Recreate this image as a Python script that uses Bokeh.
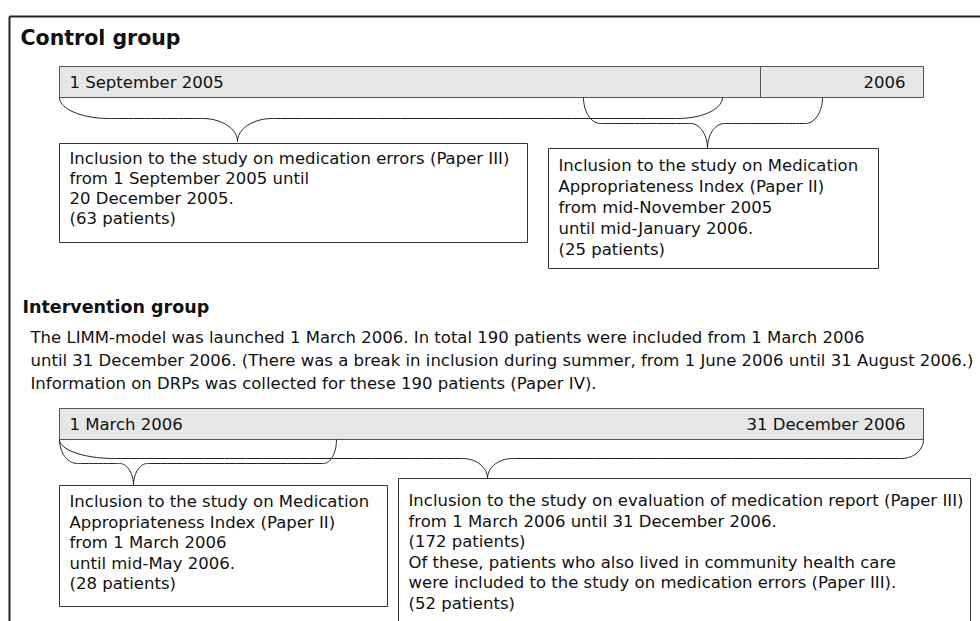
from bokeh.plotting import figure
from bokeh.models import Range1d
from bokeh.core.properties import value
from bokeh.embed import file_html
from bokeh.resources import INLINE

# ---------------- texts (content) ----------------
control_title = "Control group"
control_bar_labels = ["1 September 2005", "2006"]
control_box1_lines = [
    "Inclusion to the study on medication errors (Paper III)",
    "from 1 September 2005 until",
    "20 December 2005.",
    "(63 patients)",
]
control_box2_lines = [
    "Inclusion to the study on Medication",
    "Appropriateness Index (Paper II)",
    "from mid-November 2005",
    "until mid-January 2006.",
    "(25 patients)",
]
intervention_title = "Intervention group"
intervention_text = [
    "The LIMM-model was launched 1 March 2006. In total 190 patients were included from 1 March 2006",
    "until 31 December 2006. (There was a break in inclusion during summer, from 1 June 2006 until 31 August 2006.)",
    "Information on DRPs was collected for these 190 patients (Paper IV).",
]
intervention_bar_labels = ["1 March 2006", "31 December 2006"]
intervention_box1_lines = [
    "Inclusion to the study on Medication",
    "Appropriateness Index (Paper II)",
    "from 1 March 2006",
    "until mid-May 2006.",
    "(28 patients)",
]
intervention_box2_lines = [
    "Inclusion to the study on evaluation of medication report (Paper III)",
    "from 1 March 2006 until 31 December 2006.",
    "(172 patients)",
    "Of these, patients who also lived in community health care",
    "were included to the study on medication errors (Paper III).",
    "(52 patients)",
]

# ---------------- layout (page pixel coordinates) ----------------
FONT = value("DejaVu Sans")
BODY = "16.5px"
TXT = "#111111"
LINE = "#222222"
BAR_FILL = "#e6e6e6"
BAR_LINE = "#555555"

W, H = 980, 621
p = figure(width=W, height=H, x_range=Range1d(0, W), y_range=Range1d(H, 0),
           output_backend="svg", toolbar_location=None, min_border=0,
           outline_line_color=None, background_fill_color="white",
           border_fill_color="white")
p.axis.visible = False
p.grid.visible = False

# outer frame (clipped at right/bottom)
p.line([9, 9], [700, 16], line_color="#222222", line_width=2)
p.line([9, 1000], [16, 16], line_color="#222222", line_width=2)


def bz(p0, p1, p2, p3, n=24):
    xs, ys = [], []
    for i in range(n + 1):
        t = i / n
        a = (1 - t) ** 3
        b = 3 * (1 - t) ** 2 * t
        c = 3 * (1 - t) * t ** 2
        d = t ** 3
        xs.append(a * p0[0] + b * p1[0] + c * p2[0] + d * p3[0])
        ys.append(a * p0[1] + b * p1[1] + c * p2[1] + d * p3[1])
    return xs, ys


def brace(x0, x1, xt, y0, ym, yt, rl, rt, rr):
    k = 0.552
    xs, ys = [], []
    segs = [
        ((x0, y0), (x0, y0 + k * (ym - y0)), (x0 + rl - k * rl, ym), (x0 + rl, ym)),
        ((x0 + rl, ym), (x0 + rl, ym), (xt - rt, ym), (xt - rt, ym)),
        ((xt - rt, ym), (xt - rt + k * rt, ym), (xt, yt - k * (yt - ym)), (xt, yt)),
        ((xt, yt), (xt, yt - k * (yt - ym)), (xt + rt - k * rt, ym), (xt + rt, ym)),
        ((xt + rt, ym), (xt + rt, ym), (x1 - rr, ym), (x1 - rr, ym)),
        ((x1 - rr, ym), (x1 - rr + k * rr, ym), (x1, y0 + k * (ym - y0)), (x1, y0)),
    ]
    for s in segs:
        a, b = bz(*s)
        xs += a
        ys += b
    p.line(xs, ys, line_color=LINE, line_width=1)


def bar(x0, x1, y0, y1, labels, divider=None):
    p.quad(left=[x0], right=[x1], top=[y0], bottom=[y1], fill_color=BAR_FILL,
           line_color=BAR_LINE, line_width=1)
    if divider is not None:
        p.line([divider, divider], [y0, y1], line_color=BAR_LINE, line_width=1)
    ym = (y0 + y1) / 2
    p.text(x=[x0 + 10], y=[ym], text=[labels[0]], text_font=FONT, text_font_size=BODY,
           text_baseline="middle", text_align="left", text_color=TXT)
    p.text(x=[x1 - 18], y=[ym], text=[labels[1]], text_font=FONT, text_font_size=BODY,
           text_baseline="middle", text_align="right", text_color=TXT)


def box(x0, x1, y0, y1, lines, first, gap):
    p.quad(left=[x0], right=[x1], top=[y0], bottom=[y1], fill_color="white",
           line_color="#333333", line_width=1)
    ys = [first + i * gap for i in range(len(lines))]
    p.text(x=[x0 + 10] * len(lines), y=ys, text=lines, text_font=FONT, text_font_size=BODY,
           text_baseline="middle", text_align="left", text_color=TXT)


# ---- Control group ----
p.text(x=[20], y=[37], text=[control_title], text_font=FONT, text_font_size="20.5px",
       text_font_style="bold", text_baseline="middle", text_color=TXT)
bar(59, 923, 66, 97, control_bar_labels, divider=760)
brace(59, 722, 237, 97, 118, 141, 50, 35, 45)
brace(583, 822, 707, 97, 123, 148, 17, 17, 17)
box(59, 527, 143, 242, control_box1_lines, 158, 20)
box(548, 878, 148, 268, control_box2_lines, 165, 21)

# ---- Intervention group ----
p.text(x=[22], y=[306], text=[intervention_title], text_font=FONT, text_font_size="17.5px",
       text_font_style="bold", text_baseline="middle", text_color=TXT)
p.text(x=[30] * 3, y=[337, 360, 383], text=intervention_text, text_font=FONT,
       text_font_size=BODY, text_baseline="middle", text_color=TXT)
bar(59, 923, 408, 439, intervention_bar_labels)
brace(59, 923, 487, 439, 458, 478, 55, 25, 22)
brace(59, 336, 133, 439, 463, 485, 18, 14, 13)
box(59, 387, 485, 606, intervention_box1_lines, 501, 20.5)
box(398, 970, 478, 700, intervention_box2_lines, 500, 20.5)

open("out.html", "w").write(file_html(p, INLINE))
